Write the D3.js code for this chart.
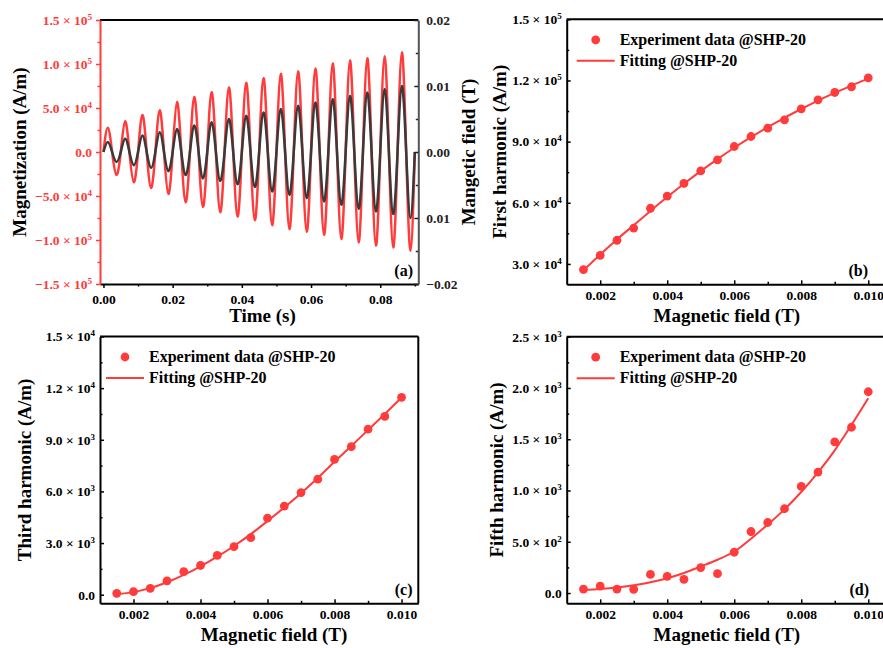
<!DOCTYPE html>
<html>
<head>
<meta charset="utf-8">
<script src="https://cdn.jsdelivr.net/npm/d3@7"></script>
<style>
  html, body { margin: 0; padding: 0; background: #fff; }
  svg { display: block; }
</style>
</head>
<body>
<svg id="chart" width="883" height="648"></svg>
<script>
// ---- data ----
// (a) one cycle per field step, 200 Hz drive
const period = 0.005;
const magPeaks = [27.6e3, 34.8e3, 42.0e3, 47.3e3, 56.7e3, 62.4e3, 68.0e3, 73.3e3, 78.6e3,
                  83.9e3, 88.8e3, 91.9e3, 94.9e3, 100.6e3, 104.0e3, 106.6e3, 108.9e3, 113.0e3];
const magTroughs = [-26.0e3, -34.4e3, -40.8e3, -47.6e3, -57.0e3, -62.4e3, -68.4e3, -73.3e3, -77.5e3,
                    -83.1e3, -87.7e3, -90.7e3, -94.1e3, -99.0e3, -102.8e3, -106.6e3, -108.5e3, -112.3e3];
const fieldPeaks = [0.0015, 0.0020, 0.0025, 0.0030, 0.0035, 0.0040, 0.0045, 0.0050, 0.0055,
                    0.0060, 0.0065, 0.0070, 0.0075, 0.0080, 0.0085, 0.0090, 0.0095, 0.0100];
const fieldTroughs = [-0.0015, -0.0020, -0.0024, -0.0029, -0.0035, -0.0040, -0.0044, -0.0049, -0.0053,
                      -0.0060, -0.0065, -0.0070, -0.0075, -0.0080, -0.0086, -0.0090, -0.0094, -0.0100];

const timeTicks = [0, 0.02, 0.04, 0.06, 0.08];
const timeMinor = [0.01, 0.03, 0.05, 0.07, 0.09];
const timeLabels = ['0.00', '0.02', '0.04', '0.06', '0.08'];
const magTicks = [-1.5e5, -1e5, -5e4, 0, 5e4, 1e5, 1.5e5];
const magMinor = [-1.25e5, -7.5e4, -2.5e4, 2.5e4, 7.5e4, 1.25e5];
const magLabels = [['\u22121.5', 5], ['\u22121.0', 5], ['\u22125.0', 4], ['0.0', null], ['5.0', 4], ['1.0', 5], ['1.5', 5]];
const fieldTicks = [-0.02, -0.01, 0, 0.01, 0.02];
const fieldMinor = [-0.015, -0.005, 0.005, 0.015];
const fieldLabels = ['\u22120.02', '0.01', '0.00', '0.01', '0.02'];

// (b)(c)(d) harmonics vs field amplitude
const fieldValues = [0.0015, 0.0020, 0.0025, 0.0030, 0.0035, 0.0040, 0.0045, 0.0050, 0.0055,
                     0.0060, 0.0065, 0.0070, 0.0075, 0.0080, 0.0085, 0.0090, 0.0095, 0.0100];
const firstHarmonic = [27.2e3, 34.2e3, 41.6e3, 47.6e3, 57.3e3, 63.3e3, 69.5e3, 75.6e3, 81.0e3,
                       87.6e3, 92.5e3, 96.6e3, 100.7e3, 106.1e3, 110.5e3, 114.1e3, 116.9e3, 121.3e3];
const firstFit = [26.8e3, 34.6e3, 42.0e3, 49.0e3, 56.0e3, 62.8e3, 69.3e3, 75.5e3, 81.4e3,
                  87.0e3, 92.2e3, 97.1e3, 101.7e3, 106.0e3, 110.1e3, 113.9e3, 117.5e3, 120.9e3];
const thirdHarmonic = [78, 175, 370, 800, 1345, 1697, 2282, 2790, 3315,
                       4447, 5150, 5930, 6710, 7860, 8600, 9615, 10355, 11467];
const thirdFit = [30, 150, 380, 720, 1150, 1650, 2210, 2830, 3520,
                  4280, 5070, 5900, 6780, 7720, 8640, 9570, 10500, 11450];
const fifthHarmonic = [39, 68, 39, 36, 182, 163, 134, 248, 189,
                       398, 600, 688, 822, 1040, 1180, 1474, 1617, 1963];
const fifthFit = [31, 40, 54, 76, 105, 145, 196, 259, 325,
                  405, 530, 668, 816, 985, 1176, 1392, 1640, 1900];

const hTicks = [0.002, 0.004, 0.006, 0.008, 0.010];
const hMinor = [0.003, 0.005, 0.007, 0.009];
const hLabels = ['0.002', '0.004', '0.006', '0.008', '0.010'];
const firstTicks = [3e4, 6e4, 9e4, 1.2e5, 1.5e5];
const firstMinor = [4.5e4, 7.5e4, 1.05e5, 1.35e5];
const firstLabels = [['3.0', 4], ['6.0', 4], ['9.0', 4], ['1.2', 5], ['1.5', 5]];
const thirdTicks = [0, 3e3, 6e3, 9e3, 1.2e4, 1.5e4];
const thirdMinor = [1.5e3, 4.5e3, 7.5e3, 1.05e4, 1.35e4];
const thirdLabels = [['0.0', null], ['3.0', 3], ['6.0', 3], ['9.0', 3], ['1.2', 4], ['1.5', 4]];
const fifthTicks = [0, 500, 1000, 1500, 2000, 2500];
const fifthMinor = [250, 750, 1250, 1750, 2250];
const fifthLabels = [['0.0', null], ['5.0', 2], ['1.0', 3], ['1.5', 3], ['2.0', 3], ['2.5', 3]];

const legendLabels = ['Experiment data @SHP-20', 'Fitting @SHP-20'];

// ---- style ----
const serif = '"Liberation Serif", "Times New Roman", serif';
const red = '#ff3b3b';
const dark = '#3a3a3a';

const svg = d3.select('#chart');

function sciText(g, labels) {
  g.selectAll('.tick text').each(function(d, i) {
    const lab = labels[i];
    const t = d3.select(this).text(null);
    if (typeof lab === 'string') { t.text(lab); return; }
    if (lab[1] == null) { t.text(lab[0]); return; }
    t.append('tspan').text(lab[0] + ' \u00d7 10');
    t.append('tspan').attr('dy', '-0.55em').attr('font-size', '9px').text(lab[1]);
  });
}

function styleAxis(g, color) {
  g.attr('font-family', serif)
    .attr('font-size', 13.5)
    .attr('font-weight', 'bold')
    .attr('color', color);
  g.select('.domain').attr('stroke-width', 2);
  g.selectAll('.tick line').attr('stroke-width', 1.5);
}

// draws major + minor ticks, dir = 1 outward, -1 inward
function addAxis(axisFn, scale, pos, major, minor, labels, dir, pad, color) {
  const gMinor = svg.append('g').attr('transform', pos)
    .call(axisFn(scale).tickValues(minor).tickFormat(() => '').tickSizeInner(dir * 2.5).tickSizeOuter(0));
  gMinor.select('.domain').remove();
  gMinor.attr('color', color).selectAll('.tick line').attr('stroke-width', 1.5);
  const g = svg.append('g').attr('transform', pos)
    .call(axisFn(scale).tickValues(major).tickSizeInner(dir * 4).tickSizeOuter(0).tickPadding(pad));
  styleAxis(g, color);
  if (labels) sciText(g, labels);
  else g.selectAll('.tick text').remove();
  return g;
}

function hLine(x1, x2, y, color) {
  svg.append('line').attr('x1', x1).attr('x2', x2).attr('y1', y).attr('y2', y)
    .attr('stroke', color).attr('stroke-width', 2);
}
function vLine(x, y1, y2, color) {
  svg.append('line').attr('x1', x).attr('x2', x).attr('y1', y1).attr('y2', y2)
    .attr('stroke', color).attr('stroke-width', 2);
}

function title(text, x, y, rotate, size) {
  svg.append('text')
    .attr('transform', `translate(${x},${y})` + (rotate ? ' rotate(-90)' : ''))
    .attr('text-anchor', 'middle')
    .attr('font-family', serif).attr('font-weight', 'bold')
    .attr('font-size', size || 19)
    .attr('fill', '#000')
    .text(text);
}

function panelTag(text, x, y) {
  svg.append('text').attr('x', x).attr('y', y)
    .attr('text-anchor', 'end')
    .attr('font-family', serif).attr('font-weight', 'bold')
    .attr('font-size', 16).text(text);
}

// ---- panel (a) ----
function drawA() {
  const box = { left: 100, right: 418.3, top: 20, bottom: 284 };
  const x = d3.scaleLinear().domain([-0.001, 0.091]).range([box.left, box.right]);
  const yM = d3.scaleLinear().domain([-1.5e5, 1.5e5]).range([box.bottom, box.top]);
  const yB = d3.scaleLinear().domain([-0.02, 0.02]).range([box.bottom, box.top]);

  const wave = (peaks, troughs) => {
    const pts = [];
    peaks.forEach((p, k) => {
      const t0 = k * period;
      pts.push([t0, 0], [t0 + period / 4, p], [t0 + period / 2, 0], [t0 + 3 * period / 4, troughs[k]]);
    });
    pts.push([peaks.length * period, 0]);
    return pts;
  };

  svg.append('path')
    .datum(wave(magPeaks, magTroughs))
    .attr('d', d3.line().x(d => x(d[0])).y(d => yM(d[1])).curve(d3.curveNatural))
    .attr('fill', 'none').attr('stroke', red).attr('stroke-width', 2.5);
  svg.append('path')
    .datum(wave(fieldPeaks, fieldTroughs))
    .attr('d', d3.line().x(d => x(d[0])).y(d => yB(d[1])).curve(d3.curveNatural))
    .attr('fill', 'none').attr('stroke', dark).attr('stroke-width', 2.5);

  hLine(box.left, box.right, box.top, '#000');
  addAxis(d3.axisBottom, x, `translate(0,${box.bottom})`, timeTicks, timeMinor, timeLabels, 1, 6, '#000');
  addAxis(d3.axisLeft, yM, `translate(${box.left},0)`, magTicks, magMinor, magLabels, 1, 4, red);
  const gr = addAxis(d3.axisRight, yB, `translate(${box.right},0)`, fieldTicks, fieldMinor, fieldLabels, -1, 8, '#222');
  gr.select('.domain').attr('stroke', '#555');

  title('Magnetization (A/m)', 26, 152, true);
  title('Mangetic field (T)', 475, 152, true);
  title('Time (s)', 262.5, 322);
  panelTag('(a)', 413, 276);
}

// ---- panels (b)(c)(d) ----
function drawHarmonic(p) {
  const box = p.box;
  const x = d3.scaleLinear().domain([0.001, 0.0105]).range([box.left, box.right]);
  const y = d3.scaleLinear().domain(p.yDomain).range([box.bottom, box.top]);

  svg.append('path')
    .datum(fieldValues.map((f, i) => [f, p.fit[i]]))
    .attr('d', d3.line().x(d => x(d[0])).y(d => y(d[1])).curve(d3.curveMonotoneX))
    .attr('fill', 'none').attr('stroke', red).attr('stroke-width', 2);
  svg.append('g').selectAll('circle')
    .data(fieldValues.map((f, i) => [f, p.values[i]]))
    .join('circle')
      .attr('cx', d => x(d[0]))
      .attr('cy', d => y(d[1]))
      .attr('r', 4.4)
      .attr('fill', red);

  hLine(box.left, box.right, box.top, '#000');
  vLine(box.right, box.top, box.bottom, '#000');
  addAxis(d3.axisBottom, x, `translate(0,${box.bottom})`, hTicks, hMinor, hLabels, -1, 6, '#000');
  addAxis(d3.axisLeft, y, `translate(${box.left},0)`, p.ticks, p.minor, p.labels, -1, 5, '#000');

  // legend
  const lx = box.left + p.legendDx;
  svg.append('circle').attr('cx', lx + 19).attr('cy', box.top + 20.5).attr('r', 4.4).attr('fill', red);
  svg.append('line').attr('x1', lx).attr('x2', lx + 38)
    .attr('y1', box.top + 41.5).attr('y2', box.top + 41.5)
    .attr('stroke', red).attr('stroke-width', 2);
  legendLabels.forEach((t, i) => {
    svg.append('text').attr('x', lx + 43).attr('y', box.top + 25.5 + i * 21)
      .attr('font-family', serif).attr('font-weight', 'bold').attr('font-size', 16)
      .text(t);
  });

  title(p.yTitle, p.yTitleX, (box.top + box.bottom) / 2, true);
  title('Magnetic field (T)', p.xTitleX, box.bottom + 37.5);
  panelTag(p.tag, p.tagX, box.bottom - 8.5);
}

drawA();
drawHarmonic({
  box: { left: 566.7, right: 885, top: 19.3, bottom: 284.3 },
  yDomain: [2e4, 1.5e5], values: firstHarmonic, fit: firstFit,
  ticks: firstTicks, minor: firstMinor, labels: firstLabels,
  yTitle: 'First harmonic (A/m)', yTitleX: 506, xTitleX: 726.8,
  legendDx: 10, tag: '(b)', tagX: 868
});
drawHarmonic({
  box: { left: 100, right: 418.3, top: 336.5, bottom: 603.3 },
  yDomain: [-500, 15000], values: thirdHarmonic, fit: thirdFit,
  ticks: thirdTicks, minor: thirdMinor, labels: thirdLabels,
  yTitle: 'Third harmonic (A/m)', yTitleX: 31, xTitleX: 274,
  legendDx: 6, tag: '(c)', tagX: 412.5
});
drawHarmonic({
  box: { left: 566.7, right: 885, top: 336.7, bottom: 603.3 },
  yDomain: [-100, 2500], values: fifthHarmonic, fit: fifthFit,
  ticks: fifthTicks, minor: fifthMinor, labels: fifthLabels,
  yTitle: 'Fifth harmonic (A/m)', yTitleX: 503, xTitleX: 726.8,
  legendDx: 10, tag: '(d)', tagX: 869
});
</script>
</body>
</html>
